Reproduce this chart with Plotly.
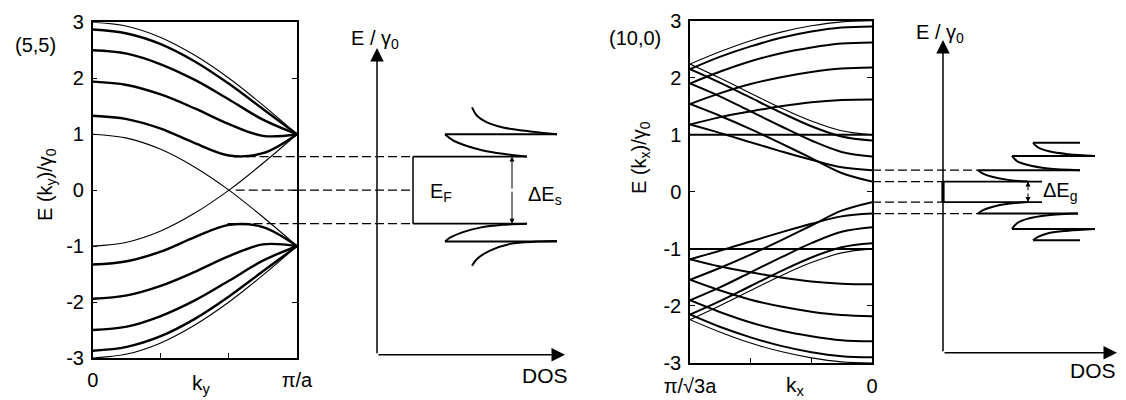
import plotly.graph_objects as go

W, H = 1126, 400
FONT = "Liberation Sans, Arial, sans-serif"

# ---------------- (5,5) armchair tube: E(k_y)/gamma0, k from 0 to pi/a ----------------
k_arm = [0.0, 0.167, 0.333, 0.5, 0.667, 0.833, 1.0]
arm_c0 = [3.00, 2.93, 2.73, 2.41, 2.00, 1.52, 1.00]      # thin
arm_c1 = [2.87, 2.80, 2.61, 2.30, 1.90, 1.45, 1.00]
arm_c2 = [2.50, 2.44, 2.25, 1.97, 1.62, 1.26, 1.00]
arm_c3 = [1.94, 1.88, 1.71, 1.46, 1.18, 0.97, 1.00]
arm_c4 = [1.33, 1.27, 1.10, 0.84, 0.62, 0.66, 1.00]
arm_v0 = [-3.00, -2.93, -2.73, -2.41, -2.00, -1.52, -1.00]  # thin
arm_v1 = [-2.87, -2.80, -2.61, -2.30, -1.90, -1.45, -1.00]
arm_v2 = [-2.50, -2.44, -2.25, -1.97, -1.62, -1.26, -1.00]
arm_v3 = [-1.94, -1.88, -1.71, -1.46, -1.18, -0.97, -1.00]
arm_v4 = [-1.33, -1.27, -1.10, -0.84, -0.62, -0.66, -1.00]
arm_x1 = [1.00, 0.93, 0.73, 0.41, 0.00, -0.48, -1.00]       # thin crossing bands
arm_x2 = [-1.00, -0.93, -0.73, -0.41, 0.00, 0.48, 1.00]

arm_thin = [arm_c0, arm_v0, arm_x1, arm_x2]
arm_thick = [arm_c1, arm_c2, arm_c3, arm_c4, arm_v1, arm_v2, arm_v3, arm_v4]

# band edges used for dashed lines (E value, k where the dash starts)
arm_edges_E = [0.6, 0.0, -0.6]
arm_edges_k = [0.69, 0.70, 0.66]

# ---------------- (10,0) zigzag tube: E(k_x)/gamma0, k from pi/sqrt3a (1) to 0 ----------------
k_zig = [1.0, 0.833, 0.667, 0.5, 0.333, 0.167, 0.0]
zig_c0 = [2.24, 2.46, 2.65, 2.80, 2.91, 2.98, 3.00]   # thin
zig_c1 = [2.15, 2.37, 2.55, 2.70, 2.81, 2.88, 2.90]
zig_c2 = [1.90, 2.11, 2.29, 2.43, 2.53, 2.60, 2.62]
zig_c3 = [1.54, 1.73, 1.89, 2.01, 2.10, 2.16, 2.18]
zig_c4 = [1.18, 1.31, 1.41, 1.50, 1.57, 1.61, 1.62]
zig_c5 = [1.00, 1.00, 1.00, 1.00, 1.00, 1.00, 1.00]
zig_c6 = [1.18, 1.03, 0.87, 0.71, 0.56, 0.43, 0.38]
zig_c7 = [1.54, 1.33, 1.10, 0.85, 0.59, 0.33, 0.18]
zig_c8 = [1.90, 1.67, 1.41, 1.15, 0.90, 0.70, 0.62]
zig_c9 = [2.15, 1.91, 1.65, 1.39, 1.15, 0.97, 0.90]
zig_c10 = [2.24, 1.99, 1.73, 1.47, 1.24, 1.07, 1.00]  # thin
zig_v0 = [-2.24, -2.46, -2.65, -2.80, -2.91, -2.98, -3.00]  # thin
zig_v1 = [-2.15, -2.37, -2.55, -2.70, -2.81, -2.88, -2.90]
zig_v2 = [-1.90, -2.11, -2.29, -2.43, -2.53, -2.60, -2.62]
zig_v3 = [-1.54, -1.73, -1.89, -2.01, -2.10, -2.16, -2.18]
zig_v4 = [-1.18, -1.31, -1.41, -1.50, -1.57, -1.61, -1.62]
zig_v5 = [-1.00, -1.00, -1.00, -1.00, -1.00, -1.00, -1.00]
zig_v6 = [-1.18, -1.03, -0.87, -0.71, -0.56, -0.43, -0.38]
zig_v7 = [-1.54, -1.33, -1.10, -0.85, -0.59, -0.33, -0.18]
zig_v8 = [-1.90, -1.67, -1.41, -1.15, -0.90, -0.70, -0.62]
zig_v9 = [-2.15, -1.91, -1.65, -1.39, -1.15, -0.97, -0.90]
zig_v10 = [-2.24, -1.99, -1.73, -1.47, -1.24, -1.07, -1.00]  # thin

zig_thin = [zig_c0, zig_c10, zig_v0, zig_v10]
zig_thick = [zig_c1, zig_c2, zig_c3, zig_c4, zig_c5, zig_c6, zig_c7, zig_c8, zig_c9,
             zig_v1, zig_v2, zig_v3, zig_v4, zig_v5, zig_v6, zig_v7, zig_v8, zig_v9]

zig_edges_E = [0.38, 0.18, -0.18, -0.38]

# ---------------- schematic DOS (left: metallic (5,5)) ----------------
dosL_gap_x = 0.36              # box edge (E_F box)
dosL_box_end = 1.50
dosL_A_x = [0.68, 0.76, 0.90, 1.06, 1.26, 1.50]
dosL_A_E = [1.00, 0.89, 0.79, 0.71, 0.65, 0.60]
dosL_top_x = [0.68, 1.80]
dosL_top_E = [1.00, 1.00]
dosL_B_x = [0.95, 1.00, 1.10, 1.26, 1.53, 1.80]
dosL_B_E = [1.48, 1.33, 1.21, 1.12, 1.05, 1.00]
dosL_Av_x = [1.50, 1.26, 1.03, 0.86, 0.73, 0.68]
dosL_Av_E = [-0.60, -0.62, -0.67, -0.75, -0.85, -0.92]
dosL_bot_x = [0.68, 1.80]
dosL_bot_E = [-0.92, -0.92]
dosL_Bv_x = [1.80, 1.60, 1.33, 1.13, 1.00, 0.95]
dosL_Bv_E = [-0.91, -0.92, -0.96, -1.08, -1.23, -1.35]

# ---------------- schematic DOS (right: semiconducting (10,0)) ----------------
dosR_box_end = 0.99
dosR_curves = [
    ([0.35, 0.40, 0.50, 0.65, 0.85], [0.38, 0.32, 0.26, 0.21, 0.18]),
    ([0.35, 1.37], [0.38, 0.38]),
    ([0.69, 0.74, 0.85, 1.05, 1.37], [0.63, 0.54, 0.47, 0.41, 0.38]),
    ([0.69, 1.52], [0.63, 0.63]),
    ([0.90, 0.95, 1.06, 1.25, 1.52], [0.86, 0.78, 0.71, 0.66, 0.63]),
    ([0.90, 1.37], [0.86, 0.86]),
    ([0.85, 0.65, 0.50, 0.40, 0.35], [-0.18, -0.21, -0.26, -0.32, -0.38]),
    ([0.35, 1.35], [-0.38, -0.38]),
    ([1.35, 1.05, 0.85, 0.74, 0.69], [-0.38, -0.41, -0.47, -0.55, -0.65]),
    ([0.69, 1.52], [-0.65, -0.65]),
    ([1.52, 1.25, 1.06, 0.95, 0.90], [-0.65, -0.68, -0.72, -0.79, -0.85]),
    ([0.90, 1.37], [-0.85, -0.85]),
]

y_ticks = [-3, -2, -1, 0, 1, 2, 3]
y_ticktext = ["-3", "-2", "-1", "0", "1", "2", "3"]

fig = go.Figure()


def line(x, y, xa, ya, w, dash=None, shape="linear"):
    fig.add_trace(go.Scatter(
        x=x, y=y, mode="lines", xaxis=xa, yaxis=ya, showlegend=False, hoverinfo="skip",
        line=dict(color="black", width=w, dash=dash, shape=shape, smoothing=1.0),
    ))


# band curves
for b in arm_thin:
    line(k_arm, b, "x", "y", 1.1, shape="spline")
for b in arm_thick:
    line(k_arm, b, "x", "y", 2.4, shape="spline")
for b in zig_thin:
    line(k_zig, b, "x3", "y3", 1.1, shape="spline")
for b in zig_thick:
    line(k_zig, b, "x3", "y3", 2.0, shape="spline")

DASH = "9px,4px"
# left dashed guides
for e, k0 in zip(arm_edges_E, arm_edges_k):
    line([k0, 1.0], [e, e], "x", "y", 1.3, dash=DASH)
    line([-0.80, dosL_gap_x], [e, e], "x2", "y2", 1.3, dash=DASH)

# left DOS box and curves
line([dosL_gap_x, dosL_gap_x], [arm_edges_E[2], arm_edges_E[0]], "x2", "y2", 1.5)
line([dosL_gap_x, dosL_box_end], [arm_edges_E[0], arm_edges_E[0]], "x2", "y2", 1.8)
line([dosL_gap_x, dosL_box_end], [arm_edges_E[2], arm_edges_E[2]], "x2", "y2", 1.8)
for xs, es in [(dosL_A_x, dosL_A_E), (dosL_top_x, dosL_top_E), (dosL_B_x, dosL_B_E),
               (dosL_Av_x, dosL_Av_E), (dosL_bot_x, dosL_bot_E), (dosL_Bv_x, dosL_Bv_E)]:
    line(xs, es, "x2", "y2", 2.0, shape="spline")

# right dashed guides
zig_dash_end = [0.35, 0.0, 0.0, 0.35]
for e, xe in zip(zig_edges_E, zig_dash_end):
    line([-0.71, xe], [e, e], "x4", "y4", 1.3, dash=DASH)
line([0.0, dosR_box_end], [zig_edges_E[1], zig_edges_E[1]], "x4", "y4", 1.8)
line([0.0, dosR_box_end], [zig_edges_E[2], zig_edges_E[2]], "x4", "y4", 1.8)
line([0.0, 0.0], [zig_edges_E[2], zig_edges_E[1]], "x4", "y4", 3.2)
for xs, es in dosR_curves:
    line(xs, es, "x4", "y4", 2.0, shape="spline")

frame = dict(showline=True, linecolor="black", linewidth=1.5, showgrid=False, zeroline=False,
             ticks="inside", ticklen=5, tickwidth=1.3, tickcolor="black", automargin=False,
             tickfont=dict(family=FONT, size=20, color="black"))
hidden = dict(visible=False, automargin=False, showgrid=False, zeroline=False)

fig.update_layout(
    width=W, height=H, autosize=False,
    margin=dict(l=0, r=0, t=0, b=0, pad=0, autoexpand=False),
    paper_bgcolor="white", plot_bgcolor="rgba(0,0,0,0)",
    font=dict(family=FONT, color="black"),
    xaxis=dict(domain=[92.7 / W, 297 / W], range=[0, 1], anchor="y", mirror=True,
               tickvals=[0, 0.333, 0.667, 1], ticktext=["0", "", "", "π/a"],
               ticklabelstandoff=3, **frame),
    yaxis=dict(domain=[1 - 358 / H, 1 - 22.3 / H], range=[-3, 3], anchor="x", mirror="ticks",
               tickvals=y_ticks, ticktext=y_ticktext, ticklabelstandoff=3, **frame),
    xaxis2=dict(domain=[297 / W, 600 / W], range=[-0.80, 2.23], anchor="y2", **hidden),
    yaxis2=dict(domain=[1 - 358 / H, 1 - 22.3 / H], range=[-3, 3], anchor="x2", **hidden),
    xaxis3=dict(domain=[690 / W, 872 / W], range=[1, 0], anchor="y3", mirror=True,
                tickvals=[1, 0.667, 0.333, 0], ticktext=["π/√3a", "", "", "0"],
                ticklabelstandoff=4, **frame),
    yaxis3=dict(domain=[1 - 363 / H, 1 - 20.7 / H], range=[-3, 3], anchor="x3", mirror="ticks",
                tickvals=y_ticks, ticktext=y_ticktext, ticklabelstandoff=3, **frame),
    xaxis4=dict(domain=[872 / W, 1.0], range=[-0.71, 1.83], anchor="y4", **hidden),
    yaxis4=dict(domain=[1 - 363 / H, 1 - 20.7 / H], range=[-3, 3], anchor="x4", **hidden),
)

ann = []


def arrow(x0, y0, x1, y1, xa, ya, size=1.8, width=1.5):
    ann.append(dict(x=x1, y=y1, ax=x0, ay=y0, xref=xa, yref=ya, axref=xa, ayref=ya, text="",
                    showarrow=True, arrowhead=2, arrowsize=size, arrowwidth=width,
                    arrowcolor="black"))


# DOS axes with arrows
arrow(0, -2.94, 0, 2.54, "x2", "y2")
arrow(0, -2.94, 1.88, -2.94, "x2", "y2")
arrow(0, -2.82, 0, 2.66, "x4", "y4")
arrow(0, -2.82, 1.74, -2.82, "x4", "y4")
# gap arrows
arrow(1.35, 0.0, 1.35, 0.6, "x2", "y2", size=1.0, width=1.0)
arrow(1.35, 0.0, 1.35, -0.6, "x2", "y2", size=1.0, width=1.0)
arrow(0.85, 0.0, 0.85, 0.18, "x4", "y4", size=1.0, width=1.0)
arrow(0.85, 0.0, 0.85, -0.18, "x4", "y4", size=1.0, width=1.0)


def text(t, x, y, size=20, angle=0, xa="paper", ya="paper"):
    ann.append(dict(text=t, x=x, y=y, xref=xa, yref=ya, showarrow=False, textangle=angle,
                    font=dict(family=FONT, size=size, color="black"),
                    xanchor="center", yanchor="middle"))


text("(5,5)", 35 / W, 1 - 45 / H, 20)
text("(10,0)", 635 / W, 1 - 38 / H, 20)
text("E (k<sub>y</sub>)/γ<sub>0</sub>", 46 / W, 1 - 185 / H, 20, angle=-90)
text("E (k<sub>x</sub>)/γ<sub>0</sub>", 640 / W, 1 - 158 / H, 20, angle=-90)
text("k<sub>y</sub>", 201 / W, 1 - 384 / H, 21)
text("k<sub>x</sub>", 795 / W, 1 - 386 / H, 21)
text("E / γ<sub>0</sub>", 375 / W, 1 - 40 / H, 20)
text("E / γ<sub>0</sub>", 940 / W, 1 - 33 / H, 20)
text("DOS", 545 / W, 1 - 375 / H, 21)
text("DOS", 1093 / W, 1 - 370 / H, 21)
text("E<sub>F</sub>", 441 / W, 1 - 193 / H, 20)
text("ΔE<sub>s</sub>", 545 / W, 1 - 195 / H, 20)
text("ΔE<sub>g</sub>", 1060 / W, 1 - 191 / H, 20)

fig.update_layout(annotations=ann)
fig.write_html("out.html")
